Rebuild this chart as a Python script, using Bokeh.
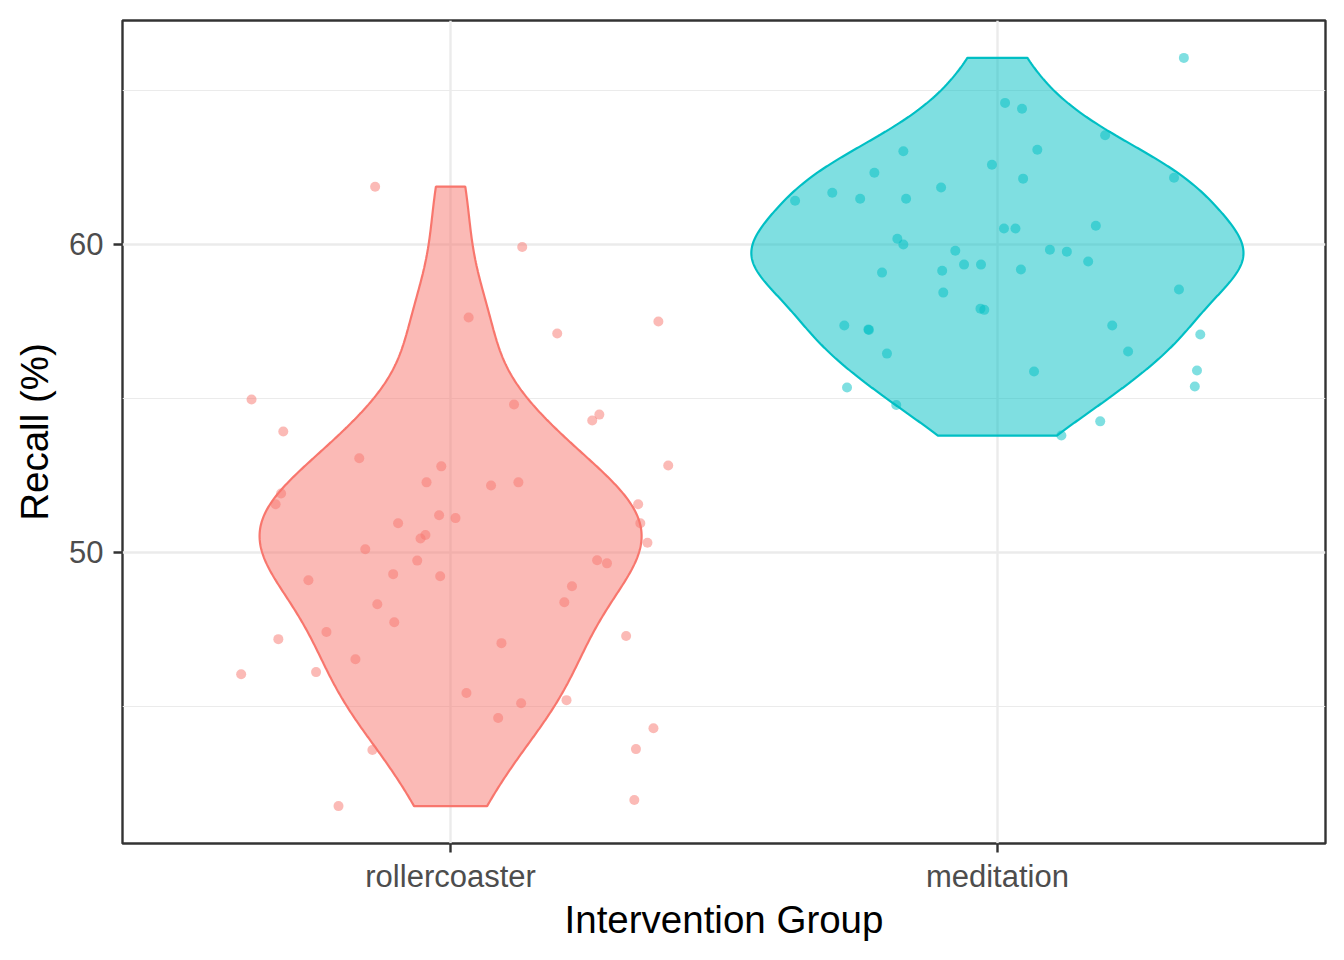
import numpy as np
from bokeh.plotting import figure
from bokeh.models import Range1d, FixedTicker
from bokeh.embed import file_html
from bokeh.resources import INLINE

groups = ["rollercoaster", "meditation"]
group_colors = ["#F8766D", "#00BFC4"]

roller_recall = [61.87, 59.91, 57.62, 57.10, 57.49, 54.96, 53.92, 54.80, 54.47, 54.28,
                 53.05, 52.82, 52.79, 52.27, 52.27, 52.17, 51.91, 51.56, 51.56, 51.20,
                 51.11, 50.94, 50.94, 50.56, 50.45, 50.31, 50.10, 49.73, 49.74, 49.64,
                 49.29, 49.22, 49.09, 48.90, 48.31, 48.38, 47.73, 47.41, 47.28, 47.18,
                 47.05, 46.53, 46.11, 46.04, 45.43, 45.10, 45.20, 44.62, 44.29, 43.58,
                 43.61, 41.96, 41.76]
roller_jitter = [-0.138, 0.131, 0.033, 0.195, 0.380, -0.364, -0.306, 0.116, 0.272, 0.259,
                 -0.167, 0.398, -0.017, -0.044, 0.124, 0.074, -0.310, -0.320, 0.343, -0.021,
                 0.009, -0.096, 0.347, -0.046, -0.055, 0.360, -0.156, -0.061, 0.268, 0.286,
                 -0.105, -0.019, -0.260, 0.222, -0.134, 0.208, -0.103, -0.227, 0.321, -0.315,
                 0.093, -0.174, -0.246, -0.383, 0.029, 0.129, 0.212, 0.087, 0.371, -0.143,
                 0.339, 0.336, -0.205]

medit_recall = [66.05, 64.59, 64.40, 63.54, 63.02, 63.07, 62.58, 62.32, 62.16, 62.13,
                61.67, 61.84, 61.41, 61.48, 61.48, 60.60, 60.51, 60.51, 60.18, 59.99,
                59.82, 59.76, 59.79, 59.44, 59.34, 59.34, 59.08, 59.14, 59.18, 58.53,
                58.43, 57.91, 57.87, 57.07, 57.36, 57.23, 57.22, 57.36, 56.45, 56.52,
                55.90, 55.87, 55.35, 55.38, 54.78, 54.25, 53.79]
medit_jitter = [0.341, 0.014, 0.045, 0.197, -0.172, 0.073, -0.010, -0.225, 0.323, 0.047,
                -0.302, -0.103, -0.370, -0.251, -0.167, 0.180, 0.012, 0.033, -0.183, -0.172,
                0.096, 0.127, -0.077, 0.166, -0.061, -0.030, -0.211, -0.101, 0.043, 0.332,
                -0.099, -0.031, -0.024, 0.371, -0.280, -0.236, -0.235, 0.210, -0.202, 0.239,
                0.365, 0.067, -0.275, 0.361, -0.185, 0.188, 0.117]

y_ticks = [50, 60]
y_minor = [45, 55, 65]

FONT = "Liberation Sans"


def kde(vals):
    v = np.asarray(vals, dtype=float)
    n = len(v)
    sd = v.std(ddof=1)
    q75, q25 = np.percentile(v, [75, 25])
    bw = 0.9 * min(sd, (q75 - q25) / 1.34) * n ** -0.2
    grid = np.linspace(v.min(), v.max(), 512)
    d = np.exp(-0.5 * ((grid[:, None] - v[None, :]) / bw) ** 2).sum(axis=1) / (n * bw * np.sqrt(2 * np.pi))
    return grid, d


all_y = np.array(roller_recall + medit_recall)
span = all_y.max() - all_y.min()
ylo, yhi = all_y.min() - 0.05 * span, all_y.max() + 0.05 * span

p = figure(width=1336, height=952, x_range=Range1d(0.4, 2.6), y_range=Range1d(ylo, yhi),
           output_backend="svg", toolbar_location=None,
           min_border_left=122, min_border_right=11, min_border_top=20, min_border_bottom=109)
p.background_fill_color = "white"
p.border_fill_color = "white"
p.outline_line_color = "#333333"
p.outline_line_width = 2.4

dens = [kde(roller_recall), kde(medit_recall)]
dmax = max(d.max() for _, d in dens)
for i, ((grid, d), col) in enumerate(zip(dens, group_colors)):
    c = i + 1
    hw = 0.45 * d / dmax
    xs = np.concatenate([c - hw, (c + hw)[::-1]])
    ys = np.concatenate([grid, grid[::-1]])
    p.patch(xs, ys, fill_color=col, fill_alpha=0.5, line_color=col, line_width=2.2)

for i, (yv, jv, col) in enumerate([(roller_recall, roller_jitter, group_colors[0]),
                                    (medit_recall, medit_jitter, group_colors[1])]):
    xv = [i + 1 + j for j in jv]
    p.scatter(xv, yv, size=10, fill_color=col, fill_alpha=0.5, line_color=None)

# axes
p.xaxis.ticker = FixedTicker(ticks=[1, 2])
p.xaxis.major_label_overrides = {1: groups[0], 2: groups[1]}
p.yaxis.ticker = FixedTicker(ticks=y_ticks, minor_ticks=y_minor)
for ax in (p.xaxis, p.yaxis):
    ax.axis_line_color = None
    ax.major_tick_line_color = "#333333"
    ax.major_tick_line_width = 2.4
    ax.major_tick_out = 9
    ax.major_tick_in = 0
    ax.minor_tick_line_color = None
    ax.major_label_text_font = FONT
    ax.major_label_text_font_size = "31px"
    ax.major_label_text_color = "#4D4D4D"
    ax.axis_label_text_font = FONT
    ax.axis_label_text_font_size = "38.5px"
    ax.axis_label_text_font_style = "normal"
    ax.axis_label_text_color = "black"
p.xaxis.axis_label = "Intervention Group"
p.yaxis.axis_label = "Recall (%)"
p.xaxis.major_label_standoff = 6
p.yaxis.major_label_standoff = 10
p.xaxis.axis_label_standoff = 1
p.yaxis.axis_label_standoff = 10

p.xgrid.grid_line_color = "#EBEBEB"
p.xgrid.grid_line_width = 2.4
p.ygrid.grid_line_color = "#EBEBEB"
p.ygrid.grid_line_width = 2.4
p.ygrid.minor_grid_line_color = "#EBEBEB"
p.ygrid.minor_grid_line_width = 1.2

open("out.html", "w").write(file_html(p, INLINE))
